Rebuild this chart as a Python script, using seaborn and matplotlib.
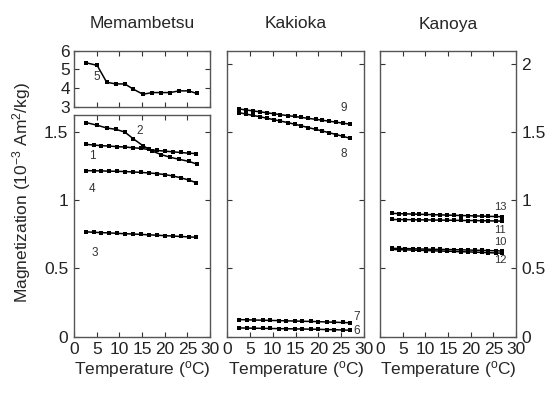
import matplotlib
matplotlib.use('Agg')
import matplotlib.pyplot as plt
import numpy as np
import seaborn as sns

# temperatures (deg C) for the three sampling densities
t_sparse = [2.6, 5.1, 7.2, 9.2, 11.2, 13.1, 15.2, 17.3, 19.2, 21.2, 23.2, 25.3, 27.1]
t_mid = [2.6, 4.3, 6.0, 7.8, 9.5, 11.3, 13.0, 14.8, 16.5, 18.3, 20.0, 21.8, 23.5, 25.3, 27.0]
t_dense = [2.6, 4.1, 5.6, 7.2, 8.7, 10.2, 11.7, 13.3, 14.8, 16.3, 17.8, 19.4, 20.9, 22.4, 23.9, 25.5, 27.0]

# Memambetsu
s5 = [5.36, 5.22, 4.32, 4.23, 4.23, 3.95, 3.68, 3.77, 3.77, 3.77, 3.86, 3.86, 3.72]
s2 = [1.57, 1.55, 1.53, 1.52, 1.50, 1.45, 1.40, 1.36, 1.335, 1.315, 1.30, 1.285, 1.265]
s1 = [1.41, 1.405, 1.40, 1.397, 1.393, 1.39, 1.385, 1.38, 1.372, 1.365, 1.36, 1.355, 1.35, 1.345, 1.342]
s4 = [1.217, 1.216, 1.215, 1.213, 1.212, 1.21, 1.207, 1.204, 1.2, 1.195, 1.188, 1.178, 1.165, 1.148, 1.128]
s3 = [0.768, 0.765, 0.762, 0.76, 0.757, 0.754, 0.752, 0.749, 0.746, 0.743, 0.74, 0.737, 0.734, 0.731, 0.728]
# Kakioka
s9 = [1.672, 1.665, 1.658, 1.651, 1.644, 1.637, 1.63, 1.623, 1.617, 1.61, 1.603, 1.596, 1.589, 1.582, 1.575, 1.567, 1.56]
s8 = [1.645, 1.635, 1.625, 1.615, 1.604, 1.594, 1.583, 1.572, 1.56, 1.548, 1.535, 1.522, 1.51, 1.497, 1.484, 1.47, 1.456]
s7 = [0.124, 0.123, 0.121, 0.12, 0.118, 0.117, 0.115, 0.114, 0.112, 0.111, 0.109, 0.107, 0.105, 0.103, 0.101]
s6 = [0.063, 0.062, 0.061, 0.06, 0.059, 0.058, 0.057, 0.056, 0.055, 0.054, 0.053, 0.051, 0.05, 0.048, 0.046]
# Kanoya
s13 = [0.905, 0.903, 0.901, 0.9, 0.898, 0.897, 0.895, 0.894, 0.892, 0.891, 0.889, 0.888, 0.886, 0.885, 0.883, 0.882, 0.88]
s11 = [0.86, 0.859, 0.859, 0.858, 0.857, 0.857, 0.856, 0.855, 0.855, 0.854, 0.853, 0.852, 0.852, 0.851, 0.85, 0.849, 0.848]
s10 = [0.648, 0.647, 0.646, 0.645, 0.643, 0.642, 0.641, 0.64, 0.639, 0.638, 0.637, 0.636, 0.634, 0.633, 0.631, 0.63, 0.628]
s12 = [0.64, 0.638, 0.637, 0.635, 0.633, 0.632, 0.63, 0.628, 0.627, 0.625, 0.623, 0.622, 0.62, 0.618, 0.616, 0.614, 0.612]

sns.set_style('ticks')
plt.rcParams['font.family'] = ['Liberation Sans', 'DejaVu Sans']
plt.rcParams['mathtext.fontset'] = 'custom'
plt.rcParams['mathtext.rm'] = 'Liberation Sans'
plt.rcParams['mathtext.it'] = 'Liberation Sans:italic'
fs = 12.5
plt.rcParams['font.size'] = fs

fig = plt.figure(figsize=(5.59, 3.94), dpi=100)
ax5 = fig.add_axes([0.1324, 0.7284, 0.2433, 0.1429])
axm = fig.add_axes([0.1324, 0.1459, 0.2433, 0.5622])
axk = fig.add_axes([0.4061, 0.1459, 0.2451, 0.7254])
axn = fig.add_axes([0.6798, 0.1459, 0.2433, 0.7254])

def draw(ax, t, v):
    sns.lineplot(x=t, y=v, ax=ax, color='black', marker='s', markersize=3.2,
                 markeredgewidth=0, linewidth=1.1, sort=False)

draw(ax5, t_sparse, s5)
for t, v in [(t_sparse, s2), (t_mid, s1), (t_mid, s4), (t_mid, s3)]:
    draw(axm, t, v)
for t, v in [(t_dense, s9), (t_dense, s8), (t_mid, s7), (t_mid, s6)]:
    draw(axk, t, v)
for v in [s13, s11, s10, s12]:
    draw(axn, t_dense, v)

for ax in [ax5, axm, axk, axn]:
    ax.set_xlim(0, 30)
    ax.set_xticks([0, 5, 10, 15, 20, 25, 30])
    ax.tick_params(direction='in', length=3.5, width=0.8, top=True, right=True,
                   colors='#333333', labelcolor='#222222', labelsize=fs, pad=4)
    for sp in ax.spines.values():
        sp.set_visible(True)
        sp.set_color('#555555')
        sp.set_linewidth(1.0)

ax5.set_ylim(3, 6)
ax5.set_yticks([3, 4, 5, 6])
ax5.tick_params(labelbottom=False, pad=3)

axm.set_ylim(0, 1.625)
axm.set_yticks([0, 0.5, 1, 1.5])
axm.set_yticklabels(['0', '0.5', '1', '1.5'])

for ax in [axk, axn]:
    ax.set_ylim(0, 2.1)
    ax.set_yticks([0, 0.5, 1, 1.5, 2])
axk.tick_params(labelleft=False)
axn.tick_params(labelleft=False, labelright=True)
axn.set_yticklabels(['0', '0.5', '1', '1.5', '2'])

lab = dict(fontsize=8.5, color='#333333', ha='center', va='center')
ax5.text(5.0, 4.6, '5', **lab)
axm.text(14.5, 1.51, '2', **lab)
axm.text(4.0, 1.325, '1', **lab)
axm.text(4.0, 1.085, '4', **lab)
axm.text(4.5, 0.61, '3', **lab)
axk.text(25.5, 1.68, '9', **lab)
axk.text(25.5, 1.34, '8', **lab)
axk.text(28.5, 0.145, '7', **lab)
axk.text(28.5, 0.04, '6', **lab)
lab_small = dict(lab, fontsize=8)
axn.text(26.5, 0.955, '13', **lab_small)
axn.text(26.5, 0.785, '11', **lab_small)
axn.text(26.5, 0.695, '10', **lab_small)
axn.text(26.5, 0.565, '12', **lab_small)

fig.text(142 / 559, 1 - 24 / 394, 'Memambetsu', ha='center', va='center', fontsize=fs)
fig.text(296 / 559, 1 - 24 / 394, 'Kakioka', ha='center', va='center', fontsize=fs)
fig.text(448 / 559, 1 - 24 / 394, 'Kanoya', ha='center', va='center', fontsize=fs)
for cx in [142, 296, 448]:
    fig.text(cx / 559, 1 - 369 / 394, r'Temperature ($^{\mathrm{o}}$C)',
             ha='center', va='center', fontsize=fs)
fig.text(22 / 559, 1 - 193 / 394, r'Magnetization (10$^{-3}$ Am$^{2}$/kg)',
         ha='center', va='center', rotation=90, fontsize=fs)

fig.savefig('out.png', dpi=100)
